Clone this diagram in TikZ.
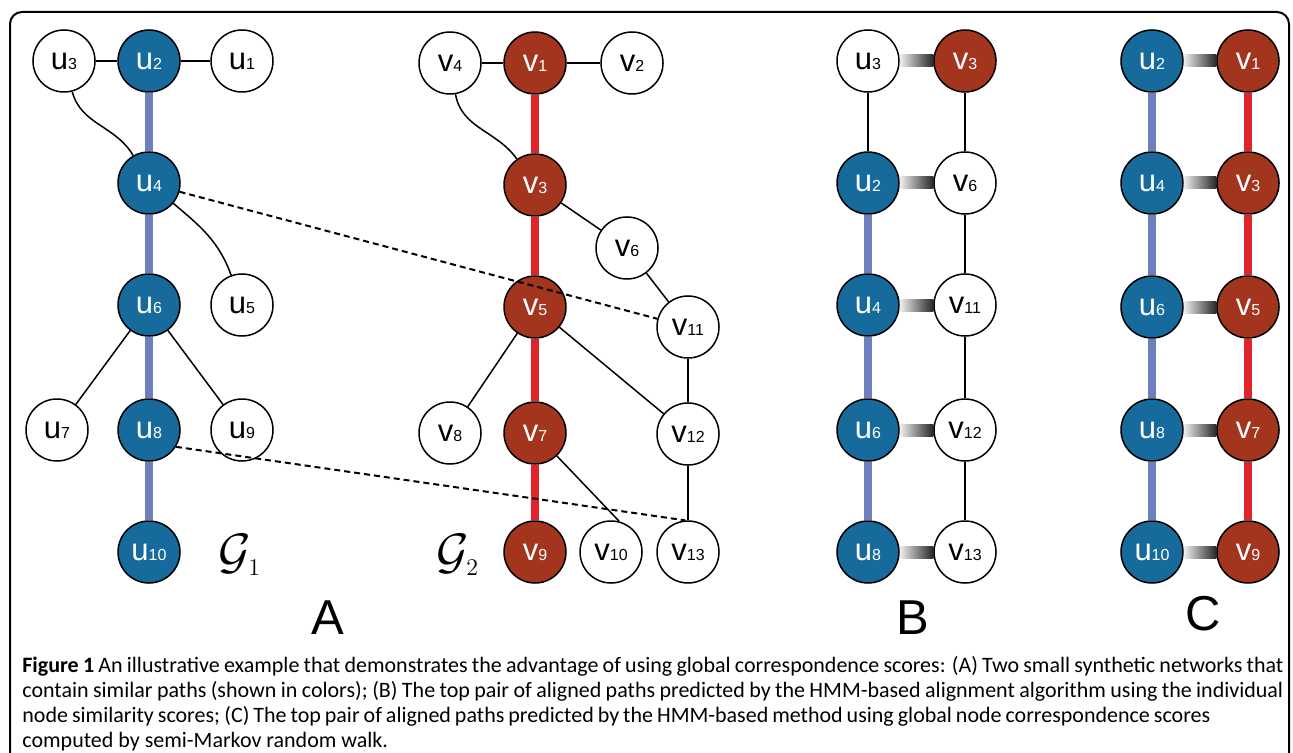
\documentclass[tikz,border=0pt]{standalone}
\usepackage{fontspec}
\setmainfont{Liberation Sans}
\newfontfamily\capfont{Carlito}
\usepackage{xcolor}
\usetikzlibrary{positioning}

\definecolor{nodeblue}{HTML}{176A9C}
\definecolor{nodered}{HTML}{A3351F}
\definecolor{pathblue}{HTML}{6E7FBE}
\definecolor{pathred}{HTML}{E1232A}

% node text: letter with a small index on the same baseline
\newcommand{\nlab}[2]{{\fontsize{15.5}{15.5}\selectfont #1}{\fontsize{8}{8}\selectfont #2}}
% graph name
\newcommand{\gname}[1]{{\fontsize{25}{25}\selectfont$\mathcal{G}_{\scriptscriptstyle #1}$}}

\begin{document}
\begin{tikzpicture}[x=0.5pt,y=-0.5pt]
  \tikzstyle{plain}=[circle,draw,line width=0.75pt,minimum size=31pt,inner sep=0pt,fill=white]
  \tikzstyle{unode}=[plain,fill=nodeblue,text=white]
  \tikzstyle{vnode}=[plain,fill=nodered,text=white]
  \tikzstyle{edge}=[line width=0.75pt]
  \tikzstyle{upath}=[line width=4pt,pathblue]
  \tikzstyle{vpath}=[line width=4pt,pathred]
  \tikzstyle{match}=[left color=black!6,right color=black!85]
  \tikzstyle{panel}=[font=\fontsize{24.5}{24.5}\selectfont,anchor=base]
  \tikzstyle{capline}=[anchor=base west,inner sep=0pt,font=\capfont\fontsize{11}{13}\selectfont]

  \useasboundingbox (0,0) rectangle (1293,753);
  \draw[line width=1pt,rounded corners=6pt] (10,753) -- (10,12) -- (1289,12) -- (1289,753);

  % A: G1
  \node[plain] (u3) at (64,61) {\nlab{u}{3}};
  \node[unode] (u2) at (149,61) {\nlab{u}{2}};
  \node[plain] (u1) at (242,61) {\nlab{u}{1}};
  \node[unode] (u4) at (149,183) {\nlab{u}{4}};
  \node[unode] (u6) at (149,305) {\nlab{u}{6}};
  \node[plain] (u5) at (242,305) {\nlab{u}{5}};
  \node[plain] (u7) at (57,430) {\nlab{u}{7}};
  \node[unode] (u8) at (149,430) {\nlab{u}{8}};
  \node[plain] (u9) at (242,430) {\nlab{u}{9}};
  \node[unode] (u10) at (149,552) {\nlab{u}{10}};
  \node (g1) at (240,555) {\gname{1}};

  \draw[edge] (u3) -- (u2);
  \draw[edge] (u2) -- (u1);
  \draw[edge] (u3) to[out=-75,in=120] (u4);
  \draw[edge] (u4) to[out=-40,in=110] (u5);
  \draw[edge] (u6) -- (u7);
  \draw[edge] (u6) -- (u9);
  \draw[upath] (u2) -- (u4);
  \draw[upath] (u4) -- (u6);
  \draw[upath] (u6) -- (u8);
  \draw[upath] (u8) -- (u10);

  % A: G2
  \node[plain] (v4) at (450,63) {\nlab{v}{4}};
  \node[vnode] (v1) at (535,63) {\nlab{v}{1}};
  \node[plain] (v2) at (632,63) {\nlab{v}{2}};
  \node[vnode] (v3) at (535,185) {\nlab{v}{3}};
  \node[plain] (v6) at (627,248) {\nlab{v}{6}};
  \node[vnode] (v5) at (535,307) {\nlab{v}{5}};
  \node[plain] (v11) at (688,327) {\nlab{v}{11}};
  \node[plain] (v8) at (450,433) {\nlab{v}{8}};
  \node[vnode] (v7) at (535,433) {\nlab{v}{7}};
  \node[plain] (v12) at (688,434) {\nlab{v}{12}};
  \node[vnode] (v9) at (535,552) {\nlab{v}{9}};
  \node[plain] (v10) at (611,552) {\nlab{v}{10}};
  \node[plain] (v13) at (688,552) {\nlab{v}{13}};
  \node (g2) at (458,555) {\gname{2}};

  \draw[edge] (v4) -- (v1);
  \draw[edge] (v1) -- (v2);
  \draw[edge] (v4) to[out=-80,in=125] (v3);
  \draw[edge] (v3) -- (v6);
  \draw[edge] (v6) -- (v11);
  \draw[edge] (v5) -- (v8);
  \draw[edge] (v5) -- (v12);
  \draw[edge] (v11) -- (v12);
  \draw[edge] (v12) -- (v13);
  \draw[edge] (v7) -- (v10.75);
  \draw[vpath] (v1) -- (v3);
  \draw[vpath] (v3) -- (v5);
  \draw[vpath] (v5) -- (v7);
  \draw[vpath] (v7) -- (v9);

  \draw[line width=1pt,dashed,dash pattern=on 3pt off 2pt] (u4.-16) -- (v11.165);
  \draw[line width=1pt,dashed,dash pattern=on 3pt off 2pt] (u8.-32) -- (v13.95);

  % B
  \node[plain] (bu3) at (868,61) {\nlab{u}{3}};
  \node[unode] (bu2) at (868,183) {\nlab{u}{2}};
  \node[unode] (bu4) at (868,305) {\nlab{u}{4}};
  \node[unode] (bu6) at (868,430) {\nlab{u}{6}};
  \node[unode] (bu8) at (868,552) {\nlab{u}{8}};
  \node[vnode] (bv3) at (965,61) {\nlab{v}{3}};
  \node[plain] (bv6) at (965,183) {\nlab{v}{6}};
  \node[plain] (bv11) at (965,305) {\nlab{v}{11}};
  \node[plain] (bv12) at (965,430) {\nlab{v}{12}};
  \node[plain] (bv13) at (965,552) {\nlab{v}{13}};

  \draw[edge] (bu3) -- (bu2);
  \draw[upath] (bu2) -- (bu4);
  \draw[upath] (bu4) -- (bu6);
  \draw[upath] (bu6) -- (bu8);
  \draw[edge] (bv3) -- (bv6);
  \draw[edge] (bv6) -- (bv11);
  \draw[edge] (bv11) -- (bv12);
  \draw[edge] (bv12) -- (bv13);
  \shade[match] ([yshift=-3pt]bu3.east) rectangle ([yshift=3pt]bv3.west);
  \shade[match] ([yshift=-3pt]bu2.east) rectangle ([yshift=3pt]bv6.west);
  \shade[match] ([yshift=-3pt]bu4.east) rectangle ([yshift=3pt]bv11.west);
  \shade[match] ([yshift=-3pt]bu6.east) rectangle ([yshift=3pt]bv12.west);
  \shade[match] ([yshift=-3pt]bu8.east) rectangle ([yshift=3pt]bv13.west);

  % C
  \node[unode] (cu2) at (1152,61) {\nlab{u}{2}};
  \node[unode] (cu4) at (1152,183) {\nlab{u}{4}};
  \node[unode] (cu6) at (1152,307) {\nlab{u}{6}};
  \node[unode] (cu8) at (1152,430) {\nlab{u}{8}};
  \node[unode] (cu10) at (1152,552) {\nlab{u}{10}};
  \node[vnode] (cv1) at (1248,61) {\nlab{v}{1}};
  \node[vnode] (cv3) at (1248,183) {\nlab{v}{3}};
  \node[vnode] (cv5) at (1248,307) {\nlab{v}{5}};
  \node[vnode] (cv7) at (1248,430) {\nlab{v}{7}};
  \node[vnode] (cv9) at (1248,552) {\nlab{v}{9}};

  \draw[upath] (cu2) -- (cu4);
  \draw[upath] (cu4) -- (cu6);
  \draw[upath] (cu6) -- (cu8);
  \draw[upath] (cu8) -- (cu10);
  \draw[vpath] (cv1) -- (cv3);
  \draw[vpath] (cv3) -- (cv5);
  \draw[vpath] (cv5) -- (cv7);
  \draw[vpath] (cv7) -- (cv9);
  \shade[match] ([yshift=-3pt]cu2.east) rectangle ([yshift=3pt]cv1.west);
  \shade[match] ([yshift=-3pt]cu4.east) rectangle ([yshift=3pt]cv3.west);
  \shade[match] ([yshift=-3pt]cu6.east) rectangle ([yshift=3pt]cv5.west);
  \shade[match] ([yshift=-3pt]cu8.east) rectangle ([yshift=3pt]cv7.west);
  \shade[match] ([yshift=-3pt]cu10.east) rectangle ([yshift=3pt]cv9.west);

  % panel letters
  \node[panel] (pa) at (328,634) {A};
  \node[panel] (pb) at (913,634) {B};
  \node[panel] (pc) at (1203,630) {C};

  % caption
  \node[capline] (cap1) at (22,672) {\makebox[630.5pt][s]{\textbf{Figure 1} An illustrative example that demonstrates the advantage of using global correspondence scores: (A) Two small synthetic networks that}};
  \node[capline] (cap2) at (22,697) {\makebox[630.5pt][s]{contain similar paths (shown in colors); (B) The top pair of aligned paths predicted by the HMM-based alignment algorithm using the individual}};
  \node[capline] (cap3) at (22,722) {\makebox[594pt][s]{node similarity scores; (C) The top pair of aligned paths predicted by the HMM-based method using global node correspondence scores}};
  \node[capline] (cap4) at (22,747) {computed by semi-Markov random walk.};
\end{tikzpicture}
\end{document}
